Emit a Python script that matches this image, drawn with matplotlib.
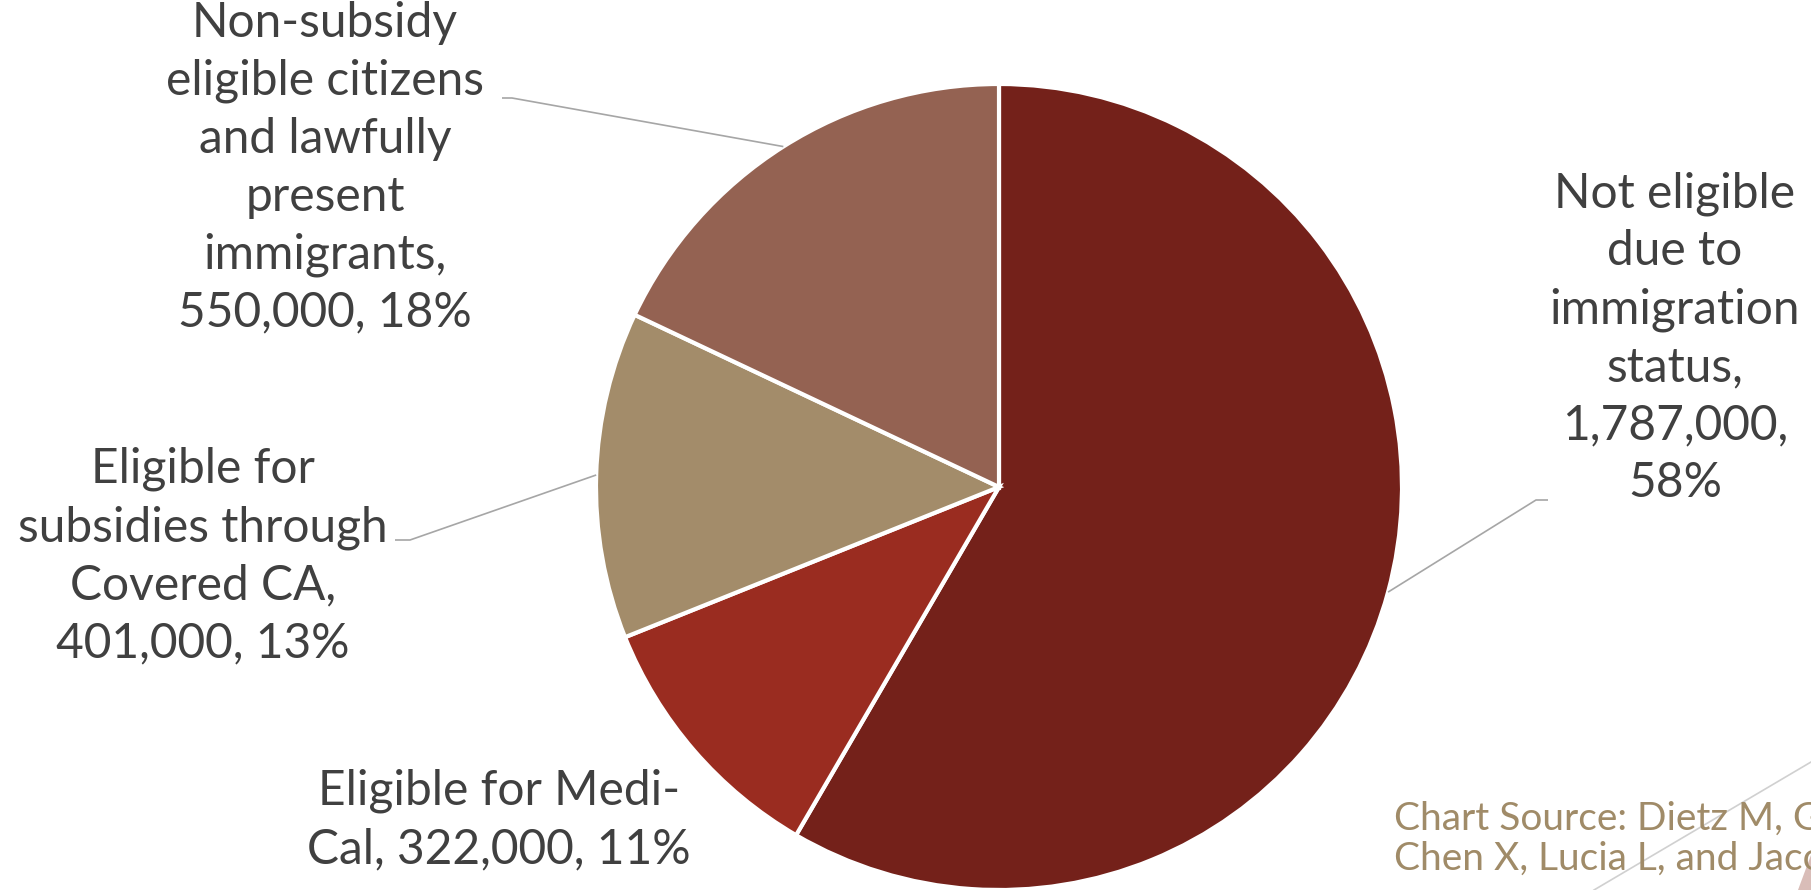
import matplotlib
matplotlib.use('Agg')
import matplotlib.pyplot as plt
import numpy as np
from matplotlib.patches import Polygon

# dados (pessoas sem seguro na California)
categorias = [
    "Not eligible\ndue to\nimmigration\nstatus,\n1,787,000,\n58%",
    "Eligible for Medi-\nCal, 322,000, 11%",
    "Eligible for\nsubsidies through\nCovered CA,\n401,000, 13%",
    "Non-subsidy\neligible citizens\nand lawfully\npresent\nimmigrants,\n550,000, 18%",
]
valores = [1787000, 322000, 401000, 550000]
cores = ["#74211A", "#9A2C20", "#A38C6A", "#946252"]

fonte_texto = "Chart Source: Dietz M, Graham-Squire D,\nChen X, Lucia L, and Jacobs K"

plt.rcParams['font.family'] = ['Lato', 'DejaVu Sans']

W, H = 1811, 890
fig = plt.figure(figsize=(W / 100, H / 100), dpi=100)
ax = fig.add_axes([0, 0, 1, 1])
ax.set_xlim(0, W)
ax.set_ylim(0, H)
ax.set_aspect('equal')
ax.axis('off')

# pizza: centro e raio em pixels (y para cima)
cx, cy, raio = 999, H - 487, 403
wedges, _ = ax.pie(valores, colors=cores, startangle=90, counterclock=False,
                   center=(cx, cy), radius=raio, frame=True,
                   wedgeprops=dict(edgecolor='white', linewidth=3))
ax.set_xlim(0, W)
ax.set_ylim(0, H)
ax.axis('off')

# posicao dos rotulos e das linhas-guia (pixels, origem no topo)
pos_rotulos = [(1675, 338), (499, 820), (203, 556), (325, 168)]
guias = [[(1548, 500), (1536, 500)], None, [(395, 540), (410, 540)], [(502, 98), (512, 98)]]

for w, txt, (px, py), guia in zip(wedges, categorias, pos_rotulos, guias):
    ax.text(px, H - py, txt, ha='center', va='center', multialignment='center',
            fontsize=34.5, color='#404040', linespacing=1.38)
    if guia is not None:
        ang = np.deg2rad((w.theta1 + w.theta2) / 2)
        ex, ey = cx + raio * np.cos(ang), cy + raio * np.sin(ang)
        xs = [guia[0][0], guia[1][0], ex]
        ys = [H - guia[0][1], H - guia[1][1], ey]
        ax.plot(xs, ys, color='#A6A6A6', lw=1.2, solid_capstyle='butt')

# fonte do grafico (cortada na borda, como no slide)
ax.text(1394, H - 839, fonte_texto, ha='left', va='center', fontsize=28,
        color='#A08B68', linespacing=1.14, clip_on=True)

# elementos decorativos do slide no canto
ax.plot([1594, 1811], [H - 890, H - 762], color='#D0D0D0', lw=1.2)
ax.add_patch(Polygon([(1798, 0), (1811, 0), (1811, 35)], closed=True,
                     color='#D9BDB8', lw=0))

fig.savefig("out.png", dpi=100)
